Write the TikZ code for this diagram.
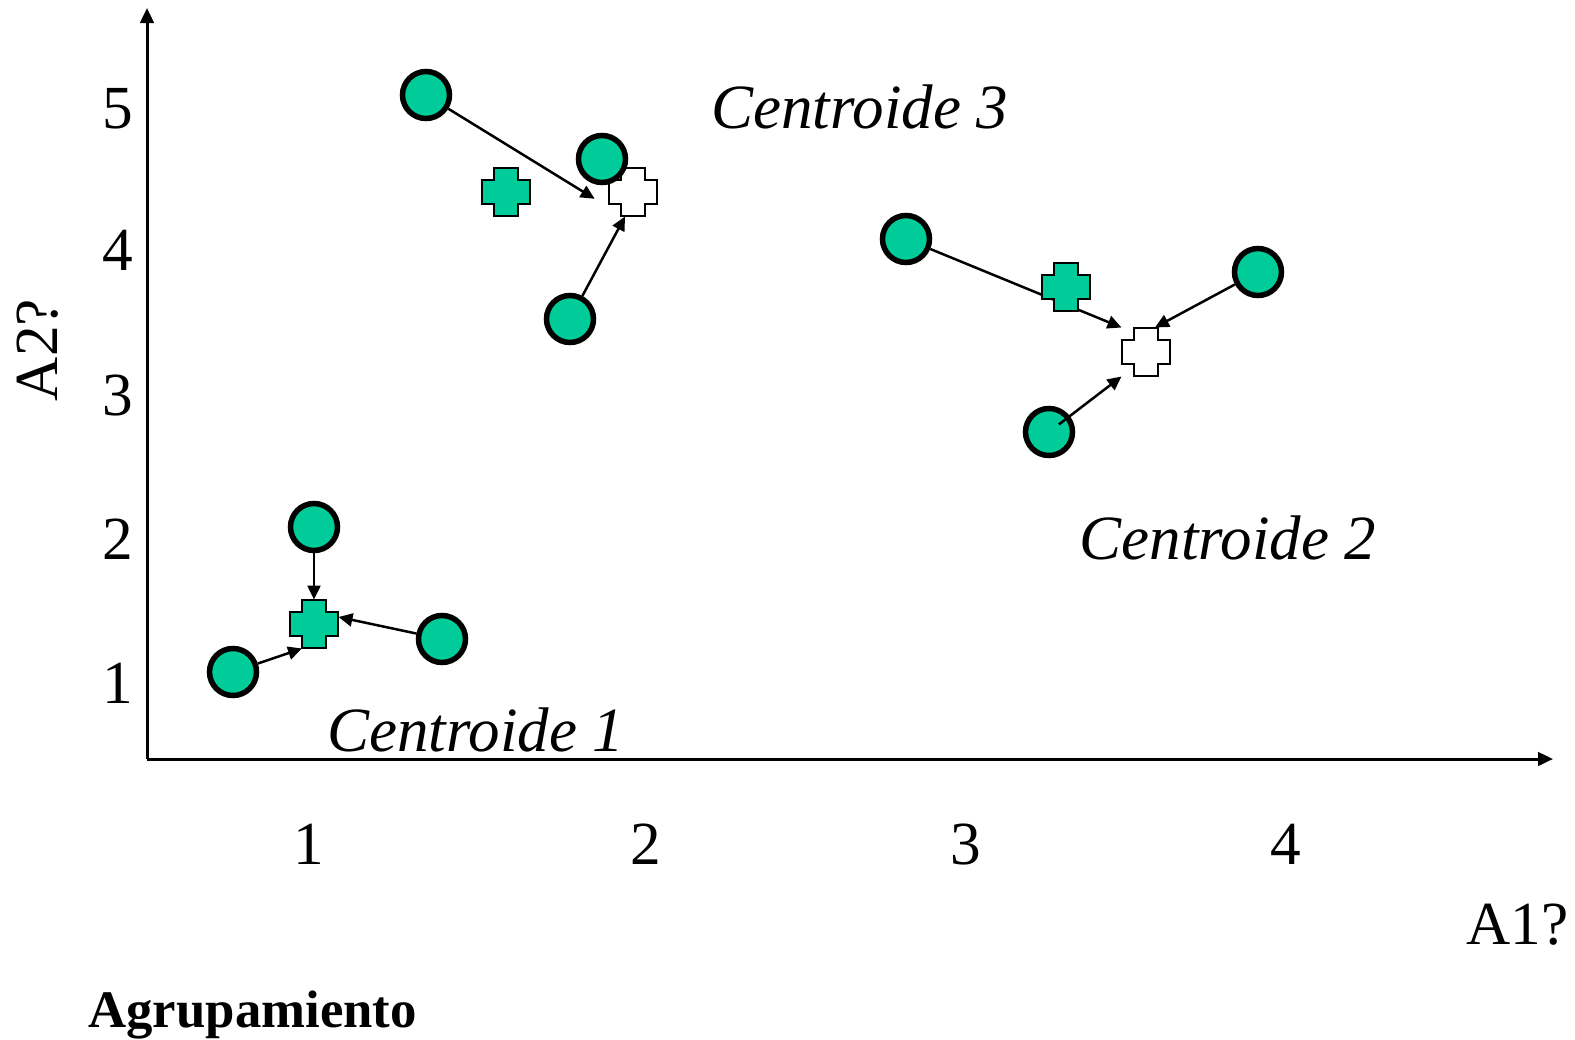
\documentclass[tikz,border=0pt]{standalone}
\usepackage{fontspec}
\setmainfont{Liberation Serif}
\usetikzlibrary{arrows.meta}
\definecolor{verde}{HTML}{00CC99}
\tikzset{
  punto/.style={circle, draw, fill=verde, line width=2.2pt, minimum size=18.8pt, inner sep=0pt},
  caja/.style={rectangle, minimum size=19.2pt, inner sep=0pt},
  flecha/.style={-{Triangle[length=5.6pt,width=5.2pt]}, line width=1pt},
  eje/.style={-{Triangle[length=6pt,width=5.4pt]}, line width=1.2pt},
  rotulo/.style={font=\fontsize{24.5}{28}\selectfont, inner sep=0pt},
  titulo/.style={font=\fontsize{25.2}{28}\selectfont\itshape, inner sep=0pt},
  pics/cruz/.style={code={
    \draw[line width=1pt, fill=#1] (-12,-24) -- (12,-24) -- (12,-12) -- (24,-12) -- (24,12) -- (12,12)
      -- (12,24) -- (-12,24) -- (-12,12) -- (-24,12) -- (-24,-12) -- (-12,-12) -- cycle;
  }}
}
\begin{document}
\begin{tikzpicture}[x=0.4pt, y=-0.4pt]
\useasboundingbox (0,0) rectangle (1575,1040);
\coordinate (o) at (147,759);
\coordinate (xfin) at (1553,759);
\coordinate (yfin) at (147,8);
\draw[eje] (o) -- (xfin);
\draw[eje] (o) -- (yfin);
\node (y5) at (118,128) [rotulo, anchor=base] {5};
\node (y4) at (118,270) [rotulo, anchor=base] {4};
\node (y3) at (118,415) [rotulo, anchor=base] {3};
\node (y2) at (118,559) [rotulo, anchor=base] {2};
\node (y1) at (118,703) [rotulo, anchor=base] {1};
\node (x1) at (309,864) [rotulo, anchor=base] {1};
\node (x2) at (646,864) [rotulo, anchor=base] {2};
\node (x3) at (966,864) [rotulo, anchor=base] {3};
\node (x4) at (1286,864) [rotulo, anchor=base] {4};
\node (ejex) at (1466,944) [rotulo, anchor=base west] {A1?};
\node (ejey) at (57,350) [rotulo, anchor=base, rotate=90] {A2?};
\node (agrup) at (88,1027) [anchor=base west, inner sep=0pt, font=\fontsize{21.1}{24}\selectfont\bfseries] {Agrupamiento};
\node (t3) at (711,128) [titulo, anchor=base west] {Centroide 3};
\node (t2) at (1079,559) [titulo, anchor=base west] {Centroide 2};
\node (t1) at (327,751) [titulo, anchor=base west] {Centroide 1};
\node (g1) at (314,624) [caja] {};
\node (g2) at (1066,287) [caja] {};
\node (g3) at (506,192) [caja] {};
\node (w2) at (1146,352) [caja] {};
\node (w3) at (633,192) [caja] {};
\pic at (w2) {cruz=white};
\pic at (w3) {cruz=white};
\node (a1) at (314,527) [punto] {};
\node (a2) at (442,639) [punto] {};
\node (a3) at (233,672) [punto] {};
\node (b1) at (906,239) [punto] {};
\node (b2) at (1258,272) [punto] {};
\node (b3) at (1049,432) [punto] {};
\node (c1) at (426,95) [punto] {};
\node (c2) at (602,159) [punto] {};
\node (c3) at (570,319) [punto] {};
\draw[flecha] (a1) -- (g1.north);
\draw[flecha] (a2) -- (g1.16);
\draw[flecha] (a3) -- (g1.244);
\draw[flecha] (b1) -- (w2.north west);
\draw[flecha] (b2) -- (w2.70);
\draw[flecha, shorten <=5pt] (b3.center) -- (w2.south west);
\draw[flecha, shorten >=6.5pt] (c1) -- (w3.212);
\draw[flecha] (c3) -- (w3.252);
\pic at (g1) {cruz=verde};
\pic at (g2) {cruz=verde};
\pic at (g3) {cruz=verde};
\end{tikzpicture}
\end{document}
